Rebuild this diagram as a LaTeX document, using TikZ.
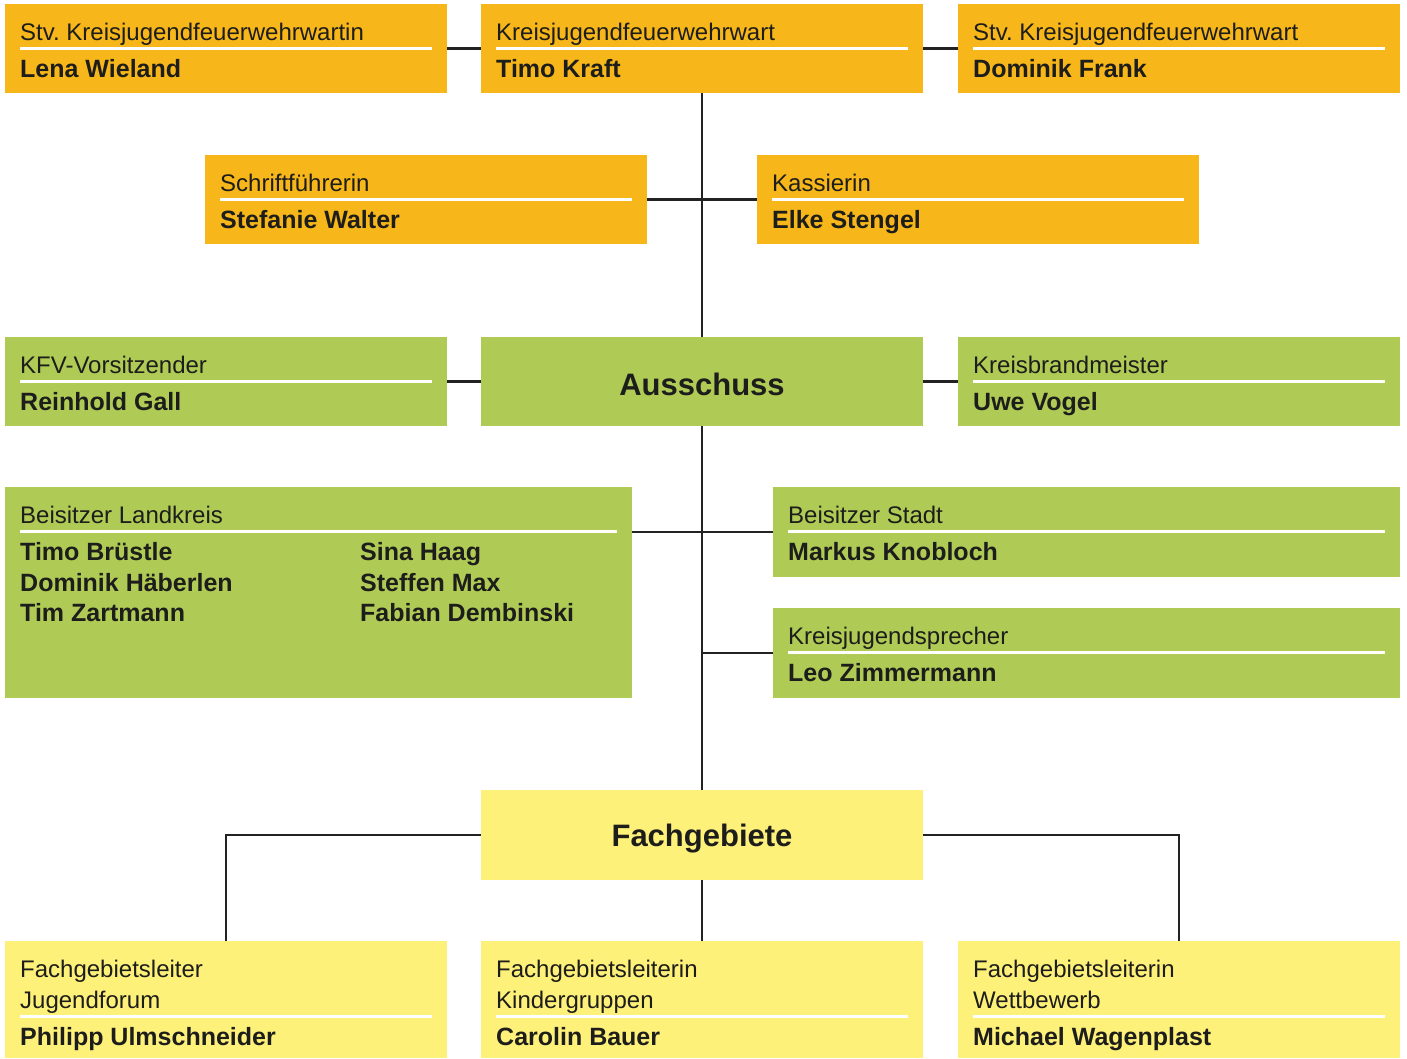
\documentclass[tikz,border=0pt]{standalone}
\usepackage{fontspec}
\setmainfont{Liberation Sans}
\usetikzlibrary{calc}
\frenchspacing
\definecolor{orgorange}{HTML}{F7B619}
\definecolor{orggreen}{HTML}{AFCB55}
\definecolor{orgyellow}{HTML}{FEF17A}
\definecolor{ink}{HTML}{1D1D1B}
\definecolor{conn}{HTML}{222222}
\tikzset{
  box/.style={draw=none,rectangle,anchor=north west,inner sep=0pt,outer sep=0pt},
  hdr/.style={anchor=base west,inner sep=0pt,text=ink,font=\fontsize{24}{29}\selectfont},
  nm/.style={anchor=base west,inner sep=0pt,text=ink,font=\fontsize{25}{30}\selectfont\bfseries},
  ttl/.style={inner sep=0pt,text=ink,font=\fontsize{31}{37}\selectfont\bfseries},
  sep/.style={draw=white,line width=3pt},
  link/.style={draw=conn,line width=2.8pt}
}
\newcommand{\orgbox}[8]{%
  \node[box,fill=#6,minimum width=#4pt,minimum height=#5pt] (#1) at (#2,#3) {};
  \node[hdr] (#1-h) at ($(#1.north west)+(15,36)$) {#7};
  \draw[sep] ($(#1.north west)+(15,44)$) -- ($(#1.north east)+(-15,44)$);
  \node[nm] (#1-n) at ($(#1.north west)+(15,73)$) {#8};
}
\newcommand{\orgboxtwo}[9]{%
  \node[box,fill=#6,minimum width=#4pt,minimum height=#5pt] (#1) at (#2,#3) {};
  \node[hdr] (#1-h) at ($(#1.north west)+(15,36)$) {#7};
  \node[hdr] (#1-h2) at ($(#1.north west)+(15,67)$) {#8};
  \draw[sep] ($(#1.north west)+(15,75)$) -- ($(#1.north east)+(-15,75)$);
  \node[nm] (#1-n) at ($(#1.north west)+(15,104)$) {#9};
}
\begin{document}
\begin{tikzpicture}[x=1pt,y=-1pt]
\useasboundingbox[fill=white] (0,0) rectangle (1407,1058);
% row 1
\orgbox{stvl}{5}{4}{442}{89}{orgorange}{Stv. Kreisjugendfeuerwehrwartin}{Lena Wieland}
\orgbox{kjfw}{481}{4}{442}{89}{orgorange}{Kreisjugendfeuerwehrwart}{Timo Kraft}
\orgbox{stvr}{958}{4}{442}{89}{orgorange}{Stv. Kreisjugendfeuerwehrwart}{Dominik Frank}
% row 2
\orgbox{schrift}{205}{155}{442}{89}{orgorange}{Schriftführerin}{Stefanie Walter}
\orgbox{kass}{757}{155}{442}{89}{orgorange}{Kassierin}{Elke Stengel}
% row 3
\orgbox{kfv}{5}{337}{442}{89}{orggreen}{KFV-Vorsitzender}{Reinhold Gall}
\node[box,fill=orggreen,minimum width=442pt,minimum height=89pt] (aus) at (481,337) {};
\node[ttl] (aus-t) at ($(aus.center)+(0,3)$) {Ausschuss};
\orgbox{kbm}{958}{337}{442}{89}{orggreen}{Kreisbrandmeister}{Uwe Vogel}
% Beisitzer
\orgbox{bl}{5}{487}{627}{211}{orggreen}{Beisitzer Landkreis}{Timo Brüstle}
\node[nm] (bl-n2) at ($(bl.north west)+(15,104)$) {Dominik Häberlen};
\node[nm] (bl-n3) at ($(bl.north west)+(15,134)$) {Tim Zartmann};
\node[nm] (bl-n4) at ($(bl.north west)+(355,73)$) {Sina Haag};
\node[nm] (bl-n5) at ($(bl.north west)+(355,104)$) {Steffen Max};
\node[nm] (bl-n6) at ($(bl.north west)+(355,134)$) {Fabian Dembinski};
\orgbox{bs}{773}{487}{627}{90}{orggreen}{Beisitzer Stadt}{Markus Knobloch}
\orgbox{ks}{773}{608}{627}{90}{orggreen}{Kreisjugendsprecher}{Leo Zimmermann}
% Fachgebiete
\node[box,fill=orgyellow,minimum width=442pt,minimum height=90pt] (fach) at (481,790) {};
\node[ttl] (fach-t) at ($(fach.center)+(0,4)$) {Fachgebiete};
\orgboxtwo{fl}{5}{941}{442}{117}{orgyellow}{Fachgebietsleiter}{Jugendforum}{Philipp Ulmschneider}
\orgboxtwo{fm}{481}{941}{442}{117}{orgyellow}{Fachgebietsleiterin}{Kindergruppen}{Carolin Bauer}
\orgboxtwo{fr}{958}{941}{442}{117}{orgyellow}{Fachgebietsleiterin}{Wettbewerb}{Michael Wagenplast}
% connectors
\draw[link] (stvl.east) -- (kjfw.west);
\draw[link] (kjfw.east) -- (stvr.west);
\draw[link] (kjfw.south) -- (aus.north);
\draw[link] (schrift.east) -- (kass.west);
\draw[link] (kfv.east) -- (aus.west);
\draw[link] (aus.east) -- (kbm.west);
\draw[link] (aus.south) -- (fach.north);
\draw[link] (bs.west -| bl.east) -- (bs.west);
\draw[link] (ks.west -| aus.south) -- (ks.west);
\draw[link] (fach.west) -| (fl.north);
\draw[link] (fach.east) -| (fr.north);
\draw[link] (fach.south) -- (fm.north);
\end{tikzpicture}
\end{document}
